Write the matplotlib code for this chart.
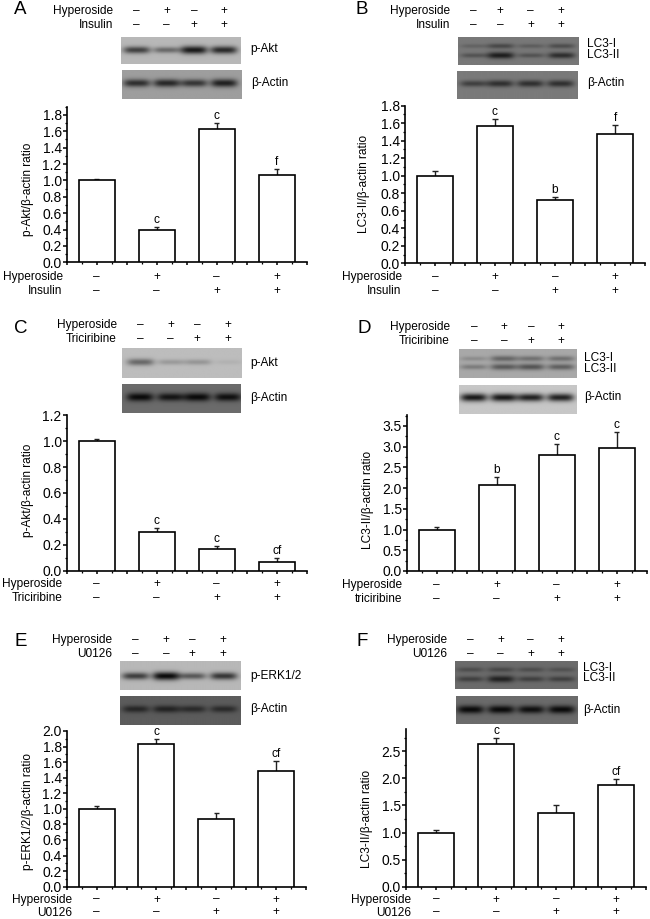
import numpy as np
import matplotlib
matplotlib.use("Agg")
import matplotlib.pyplot as plt
from matplotlib.ticker import MultipleLocator
from matplotlib.transforms import blended_transform_factory

plt.rcParams['font.family'] = ['Liberation Sans', 'DejaVu Sans']

W, H = 650, 919
FS = 8.6

# bar heights and top of error bars
vals_a = [1.0, 0.40, 1.63, 1.06]
tops_a = [1.02, 0.43, 1.70, 1.14]
vals_b = [1.0, 1.57, 0.72, 1.48]
tops_b = [1.05, 1.65, 0.76, 1.58]
vals_c = [1.0, 0.30, 0.17, 0.07]
tops_c = [1.02, 0.33, 0.19, 0.10]
vals_d = [1.0, 2.07, 2.80, 2.97]
tops_d = [1.05, 2.28, 3.06, 3.35]
vals_e = [1.0, 1.83, 0.87, 1.49]
tops_e = [1.04, 1.90, 0.95, 1.61]
vals_f = [1.0, 2.63, 1.36, 1.88]
tops_f = [1.05, 2.74, 1.50, 1.99]

sig_a = ['', 'c', 'c', 'f']
sig_b = ['', 'c', 'b', 'f']
sig_c = ['', 'c', 'c', 'cf']
sig_d = ['', 'b', 'c', 'c']
sig_e = ['', 'c', '', 'cf']
sig_f = ['', 'c', '', 'cf']

row1 = ['–', '+', '–', '+']
row2 = ['–', '–', '+', '+']

# band darkness per lane for the blots
band_a1 = [0.75, 0.5, 1.0, 0.9]
band_a2 = [0.8, 0.85, 0.75, 0.9]
band_b1 = [[0.2, 0.45, 0.25, 0.4], [0.35, 0.85, 0.35, 0.7]]
band_b2 = [0.55, 0.7, 0.7, 0.7]
band_c1 = [0.6, 0.25, 0.28, 0.08]
band_c2 = [0.95, 0.85, 0.95, 0.9]
band_d1 = [[0.25, 0.6, 0.5, 0.5], [0.4, 0.7, 0.75, 0.65]]
band_d2 = [0.95, 0.95, 0.9, 0.9]
band_e1 = [0.7, 1.0, 0.55, 0.75]
band_e2 = [0.7, 0.75, 0.65, 0.65]
band_f1 = [[0.35, 0.4, 0.35, 0.3], [0.5, 0.85, 0.5, 0.5]]
band_f2 = [0.95, 0.95, 0.9, 0.95]


def px_axes(x0, y0, x1, y1):
    # pixel box, y measured from the top of the picture
    return fig.add_axes([x0 / W, 1 - y1 / H, (x1 - x0) / W, (y1 - y0) / H])


def ftext(x, y, s, **kw):
    fig.text(x / W, 1 - y / H, s, va='center', **kw)


def blot(box, lanes, bands, ys, bg, depth, thick=0.075):
    ax = px_axes(*box)
    nx, ny = int(box[2] - box[0]) * 2, int(box[3] - box[1]) * 2
    xx, yy = np.meshgrid(np.linspace(box[0], box[2], nx), np.linspace(0, 1, ny))
    img = np.full((ny, nx), bg, dtype=float)
    for row, yc in zip(bands, ys):
        for lane, d in zip(lanes, row):
            hx = np.exp(-(np.abs(xx - lane) / 13.5) ** 4)
            hy = np.exp(-((yy - yc) / (thick + 0.07 * d)) ** 2)
            img -= depth * d * hx * hy
    ax.imshow(np.clip(img, 0, 1), cmap='gray', vmin=0, vmax=1, aspect='auto',
              interpolation='bilinear')
    ax.axis('off')


def panel(box, vals, tops, sig, ymax, ymajor, yminor, ylabel, ylab_pos, row_name,
          rows_xy, row_ys):
    ax = px_axes(*box)
    x = np.arange(1, 5)
    ax.bar(x, vals, width=0.6, facecolor='white', edgecolor='black', linewidth=1.2, zorder=3)
    ax.vlines(x, vals, tops, color='#222222', linewidth=1.0, zorder=2)
    ax.hlines(tops, x - 0.045, x + 0.045, color='#222222', linewidth=1.0, zorder=2)
    for xi, t, s in zip(x, tops, sig):
        ax.annotate(s, (xi, t), xytext=(0, 0.7), textcoords='offset points', ha='center',
                    va='bottom', fontsize=FS)
    ax.set_xlim(0.5, 4.5)
    ax.set_ylim(0, ymax)
    ax.spines['top'].set_visible(False)
    ax.spines['right'].set_visible(False)
    ax.spines['left'].set_linewidth(1.2)
    ax.spines['bottom'].set_linewidth(1.2)
    ax.xaxis.set_major_locator(MultipleLocator(0.5))
    ax.xaxis.set_minor_locator(MultipleLocator(0.25))
    ax.xaxis.set_major_formatter(plt.NullFormatter())
    ax.yaxis.set_major_locator(MultipleLocator(ymajor))
    ax.yaxis.set_minor_locator(MultipleLocator(yminor))
    ax.yaxis.set_major_formatter(lambda v, p: f'{v:.1f}')
    ax.tick_params(axis='y', which='major', length=3.1, width=1.1, labelsize=10, pad=0.5)
    ax.tick_params(axis='y', which='minor', length=1.7, width=0.9)
    ax.tick_params(axis='x', which='major', length=2.5, width=1.1)
    ax.tick_params(axis='x', which='minor', length=1.5, width=0.9)
    fig.text(ylab_pos[0] / W, 1 - ylab_pos[1] / H, ylabel, rotation=90, ha='center',
             va='center', fontsize=FS)
    tr = blended_transform_factory(ax.transData, fig.transFigure)
    for yp, marks, name in zip(row_ys, (row1, row2), ('Hyperoside', row_name)):
        ftext(rows_xy, yp, name, ha='right', fontsize=FS)
        for xi, m in zip(x, marks):
            ax.text(xi, 1 - yp / H, m, transform=tr, ha='center', va='center', fontsize=FS,
                    clip_on=False)


def header(letter, lxy, lanes, right, ys, name):
    ftext(lxy[0], lxy[1], letter, ha='left', fontsize=13.5)
    for yp, marks, nm in zip(ys, (row1, row2), ('Hyperoside', name)):
        ftext(right, yp, nm, ha='right', fontsize=FS)
        for lane, m in zip(lanes, marks):
            ftext(lane, yp, m, ha='center', fontsize=FS)


fig = plt.figure(figsize=(6.5, 9.19), dpi=100)

# A
lanes = [136.7, 166.7, 194, 224]
header('A', (14, 10), lanes, 113, (11, 25), 'Insulin')
blot((121, 36.7, 241, 64), lanes, [band_a1], [0.5], 0.72, 0.62)
blot((122, 70, 241.7, 99.3), lanes, [band_a2], [0.47], 0.62, 0.55)
ftext(250.7, 49, 'p-Akt', ha='left', fontsize=FS)
ftext(250.7, 82.7, 'β-Actin', ha='left', fontsize=FS)
panel((66.7, 106.7, 306.7, 262.3), vals_a, tops_a, sig_a, 1.9, 0.2, 0.1,
      'p-Akt/β-actin ratio', (28.3, 189), 'Insulin', 62.7, (276.7, 290.7))

# B
lanes = [473.7, 500.3, 530.7, 561]
header('B', (355.7, 9), lanes, 450, (11, 25), 'Insulin')
blot((457.7, 37.3, 578.3, 64.7), lanes, band_b1, [0.32, 0.66], 0.47, 0.42, 0.06)
blot((457.3, 70.7, 578.3, 98.7), lanes, [band_b2], [0.45], 0.48, 0.42)
ftext(587.3, 44.3, 'LC3-I', ha='left', fontsize=FS)
ftext(587.3, 55, 'LC3-II', ha='left', fontsize=FS)
ftext(587.3, 82.7, 'β-Actin', ha='left', fontsize=FS)
panel((405, 105.7, 645, 263.3), vals_b, tops_b, sig_b, 1.8, 0.2, 0.1,
      'LC3-II/β-actin ratio', (364, 184), 'Insulin', 401.7, (276.7, 290.7))

# C
lanes = [140, 170.7, 197.3, 228]
header('C', (14, 328.3), lanes, 116.7, (325, 339.3), 'Triciribine')
blot((121.7, 348.3, 241, 377.7), lanes, [band_c1], [0.47], 0.74, 0.55)
blot((122, 384, 241, 413.3), lanes, [band_c2], [0.47], 0.42, 0.4)
ftext(250, 363.3, 'p-Akt', ha='left', fontsize=FS)
ftext(250, 398.3, 'β-Actin', ha='left', fontsize=FS)
panel((66.7, 415.3, 306.7, 570.7), vals_c, tops_c, sig_c, 1.2, 0.2, 0.1,
      'p-Akt/β-actin ratio', (28, 490), 'Triciribine', 62.3, (584.3, 598.3))

# D
lanes = [474, 504, 531, 561]
header('D', (357.3, 328.3), lanes, 450, (326.7, 340.7), 'Triciribine')
blot((459.3, 349.3, 576.7, 378.3), lanes, band_d1, [0.33, 0.62], 0.66, 0.44, 0.06)
blot((459.3, 385, 577.3, 413.7), lanes, [band_d2], [0.43], 0.78, 0.72)
ftext(584.3, 358.3, 'LC3-I', ha='left', fontsize=FS)
ftext(584.3, 369, 'LC3-II', ha='left', fontsize=FS)
ftext(584.3, 397.3, 'β-Actin', ha='left', fontsize=FS)
panel((406.7, 415.3, 646.7, 571), vals_d, tops_d, sig_d, 3.757, 0.5, 0.25,
      'LC3-II/β-actin ratio', (368, 500), 'triciribine', 402, (585, 599))

# E
lanes = [135.7, 166, 192.3, 223.3]
header('E', (15, 641.7), lanes, 112.3, (640, 653.7), 'U0126')
blot((120.3, 661, 240.3, 690), lanes, [band_e1], [0.52], 0.72, 0.68)
blot((120, 695.7, 240.3, 724.7), lanes, [band_e2], [0.45], 0.36, 0.3)
ftext(250, 675.7, 'p-ERK1/2', ha='left', fontsize=FS)
ftext(250, 709.3, 'β-Actin', ha='left', fontsize=FS)
panel((66.7, 731, 306, 886.7), vals_e, tops_e, sig_e, 2.0, 0.2, 0.1,
      'p-ERK1/2/β-actin ratio', (28.3, 811), 'U0126', 71.7, (899.5, 912.5))

# F
lanes = [470, 500.7, 530.7, 561]
header('F', (356.7, 641.7), lanes, 446.7, (640, 653.7), 'U0126')
blot((455, 661, 577.3, 689.3), lanes, band_f1, [0.33, 0.66], 0.42, 0.34, 0.06)
blot((455.7, 695.7, 577.3, 724.3), lanes, [band_f2], [0.5], 0.42, 0.4)
ftext(583.3, 667.7, 'LC3-I', ha='left', fontsize=FS)
ftext(583.3, 678.3, 'LC3-II', ha='left', fontsize=FS)
ftext(583.3, 710, 'β-Actin', ha='left', fontsize=FS)
panel((406, 729.3, 646, 886.7), vals_f, tops_f, sig_f, 2.906, 0.5, 0.25,
      'LC3-II/β-actin ratio', (366.7, 818.7), 'U0126', 411, (899.5, 912.5))

fig.savefig('out.png', dpi=100)
